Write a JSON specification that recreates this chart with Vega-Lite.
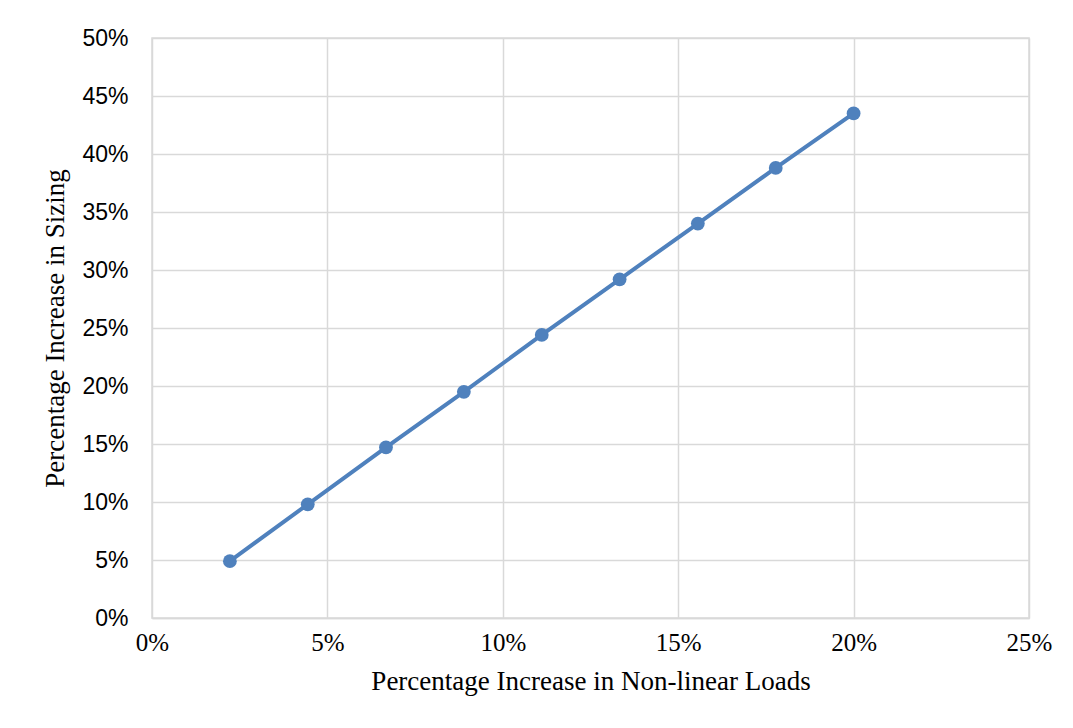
{
  "$schema": "https://vega.github.io/schema/vega-lite/v6.json",
  "width": 877,
  "height": 580,
  "autosize": {"type": "none"},
  "padding": {"left": 152, "top": 38, "right": 44, "bottom": 110},
  "background": "white",
  "data": {
    "values": [
      {"load": 0.0222, "sizing": 0.049},
      {"load": 0.0444, "sizing": 0.098},
      {"load": 0.0667, "sizing": 0.147},
      {"load": 0.0889, "sizing": 0.195},
      {"load": 0.1111, "sizing": 0.244},
      {"load": 0.1333, "sizing": 0.292},
      {"load": 0.1556, "sizing": 0.340},
      {"load": 0.1778, "sizing": 0.388},
      {"load": 0.2000, "sizing": 0.435}
    ]
  },
  "encoding": {
    "x": {
      "field": "load",
      "type": "quantitative",
      "scale": {"domain": [0, 0.25], "nice": false, "zero": false},
      "axis": {
        "title": "Percentage Increase in Non-linear Loads",
        "values": [0, 0.05, 0.1, 0.15, 0.2, 0.25],
        "format": ".0%",
        "labelFont": "Liberation Serif",
        "labelFontSize": 25,
        "labelColor": "#000000",
        "labelPadding": 12,
        "labelFlush": false,
        "ticks": false,
        "titleFont": "Liberation Serif",
        "titleFontSize": 27,
        "titleFontWeight": "normal",
        "titleColor": "#000000",
        "titlePadding": 13,
        "domainColor": "#d9d9d9",
        "domainWidth": 1.5,
        "grid": true,
        "gridColor": "#d9d9d9",
        "gridWidth": 1.5
      }
    },
    "y": {
      "field": "sizing",
      "type": "quantitative",
      "scale": {"domain": [0, 0.5], "nice": false},
      "axis": {
        "title": "Percentage Increase in Sizing",
        "values": [0, 0.05, 0.1, 0.15, 0.2, 0.25, 0.3, 0.35, 0.4, 0.45, 0.5],
        "format": ".0%",
        "labelFont": "Liberation Sans",
        "labelFontSize": 23,
        "labelColor": "#000000",
        "labelPadding": 24,
        "labelFlush": false,
        "ticks": false,
        "titleFont": "Liberation Serif",
        "titleFontSize": 27,
        "titleFontWeight": "normal",
        "titleColor": "#000000",
        "titlePadding": 12,
        "domain": false,
        "grid": true,
        "gridColor": "#d9d9d9",
        "gridWidth": 1.5
      }
    }
  },
  "layer": [
    {"mark": {"type": "line", "color": "#4f81bd", "strokeWidth": 4}},
    {"mark": {"type": "point", "filled": true, "color": "#4f81bd", "opacity": 1, "size": 190}}
  ],
  "config": {
    "view": {"stroke": "#d9d9d9", "strokeWidth": 1.5}
  }
}
